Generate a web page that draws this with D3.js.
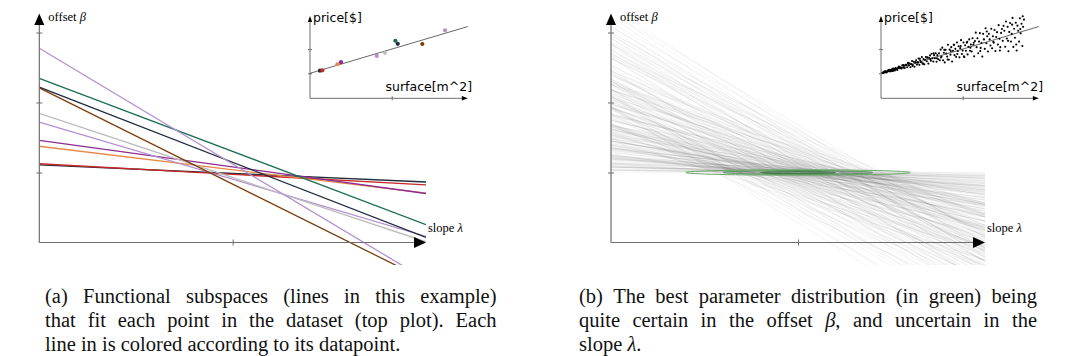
<!DOCTYPE html>
<html><head><meta charset="utf-8">
<script src="https://cdn.jsdelivr.net/npm/d3@7"></script>
<style>body{margin:0;background:#fff}svg{display:block}</style>
</head><body>
<svg id="c" width="1068" height="356"></svg>
<script>
// ---------- data ----------
// (a) ten datapoints of the top-right inset (surface, price) and their colours
const surfaceA = [0.122, 0.151, 0.335, 0.379, 0.817, 0.918, 1.045, 1.074, 1.375, 1.653];
const priceA   = [1.108, 1.125, 1.375, 1.458, 1.720, 1.846, 2.346, 2.220, 2.210, 2.775];
const colorsA  = ["#1f2d3d", "#c62828", "#e8894a", "#8e2c8e", "#b390d0", "#bdbdbd", "#1b6e55", "#1c2a3c", "#7a3d0a", "#b390d0"];

// (b) the large dataset (surface, price)
const surfaceB = [
0.02,0.03,0.04,0.05,0.06,0.07,0.08,0.09,0.10,0.11,0.12,0.13,0.14,0.15,0.16,0.17,0.18,0.19,0.20,0.21,0.22,0.23,0.24,0.25,0.26,0.27,0.28,0.29,0.30,0.035,0.065,0.095,0.125,0.155,0.185,0.215,0.245,0.275,0.055,0.145,
0.31,0.32,0.33,0.34,0.35,0.36,0.37,0.38,0.39,0.40,0.41,0.42,0.43,0.44,0.45,0.46,0.47,0.48,0.49,0.50,0.51,0.52,0.53,0.54,0.55,0.56,0.57,0.58,0.59,0.60,0.61,0.62,0.63,0.64,0.65,0.66,0.67,0.68,0.69,0.70,0.335,0.385,0.425,0.475,0.515,0.565,0.605,0.645,0.685,0.455,
0.71,0.72,0.73,0.74,0.75,0.76,0.77,0.78,0.79,0.80,0.81,0.82,0.83,0.84,0.85,0.86,0.87,0.88,0.89,0.90,0.91,0.92,0.93,0.94,0.95,0.96,0.97,0.98,0.99,1.00,1.01,1.02,1.03,1.04,1.05,1.06,1.07,1.08,1.09,1.10,0.735,0.775,0.815,0.855,0.895,0.935,0.975,1.015,1.055,1.095,
1.11,1.12,1.13,1.14,1.15,1.16,1.17,1.18,1.19,1.20,1.21,1.22,1.23,1.24,1.25,1.26,1.27,1.28,1.29,1.30,1.31,1.32,1.33,1.34,1.35,1.36,1.37,1.38,1.39,1.40,1.41,1.42,1.43,1.44,1.45,1.46,1.47,1.48,1.49,1.50,1.135,1.215,1.295,1.375,1.455,
1.51,1.52,1.53,1.54,1.55,1.56,1.57,1.58,1.59,1.60,1.61,1.62,1.63,1.64,1.65,1.66,1.67,1.68,1.69,1.70,1.71,1.72,1.73,1.74,1.75,1.555,1.605,1.655,1.705,1.735];
const priceB = [
1.03,1.01,1.07,1.04,1.08,1.04,1.08,1.13,1.08,1.14,1.08,1.14,1.19,1.12,1.18,1.12,1.22,1.19,1.14,1.24,1.28,1.21,1.25,1.20,1.33,1.23,1.31,1.22,1.35,1.03,1.05,1.12,1.10,1.20,1.17,1.23,1.21,1.34,1.08,1.10,
1.35,1.25,1.43,1.32,1.41,1.25,1.38,1.51,1.34,1.48,1.27,1.45,1.54,1.36,1.45,1.61,1.35,1.53,1.46,1.67,1.41,1.59,1.37,1.56,1.67,1.50,1.66,1.40,1.63,1.74,1.52,1.81,1.62,1.49,1.75,1.62,1.83,1.48,1.75,1.58,1.39,1.30,1.45,1.60,1.39,1.64,1.58,1.83,1.62,1.45,
1.83,1.54,1.98,1.69,2.06,1.54,1.85,1.45,1.97,1.82,1.69,2.18,1.56,1.98,1.77,2.08,1.49,1.93,2.18,1.75,2.01,1.68,2.27,1.92,2.12,1.66,2.04,2.37,1.80,1.94,2.27,1.67,2.16,1.93,2.26,1.78,2.10,2.40,1.93,2.19,1.65,1.97,1.57,1.92,2.18,1.80,2.13,1.70,2.30,2.06,
1.90,2.45,2.18,1.70,2.33,2.68,2.08,2.45,1.83,2.31,2.66,2.05,2.25,1.69,2.63,2.40,2.01,2.86,2.24,2.53,1.90,2.63,2.40,2.15,2.84,2.03,2.53,2.26,2.79,1.92,2.50,2.70,2.19,2.99,2.43,2.08,2.67,2.83,2.34,2.96,2.26,1.92,2.73,2.30,1.94,
2.76,2.10,3.14,2.44,2.92,1.91,2.71,3.08,2.31,2.63,3.29,2.09,2.84,2.47,3.09,1.94,2.97,2.76,2.31,3.27,2.65,3.05,2.13,2.92,3.22,2.34,3.01,2.19,2.83,3.36];

// best parameters and the uncertainty of the fit (panel b)
const bestOffset = 1.0, bestSlope = 1.0;
const sigmaSlope = 0.2, sigmaOffset = 0.013;
const ellipseLevels = [3, 2, 1];
const ellipseColors = ["#6aa86a", "#55965a", "#3f7d45"];

// tick values
const offsetTicks = [1, 2, 3];
const slopeTicks = [1];
const priceTicks = [1, 2];
const surfaceTicks = [1];

// captions
const captionA = ["(a) Functional subspaces (lines in this example)",
                  "that fit each point in the dataset (top plot).  Each",
                  "line in is colored according to its datapoint."];
const captionB = ["(b) The best parameter distribution (in green) being",
                  "quite certain in the offset β, and uncertain in the",
                  "slope λ."];

// ---------- drawing ----------
const svg = d3.select("#c");
const axisCol = "#6e6e6e";
const serif = "'Liberation Serif','Times New Roman',serif";
const sans = "'DejaVu Sans',sans-serif";

const yMain = d3.scaleLinear().domain([0, 3]).range([242.5, 32.5]);
const pIn = d3.scaleLinear().domain([0, 2]).range([97.5, 49.1]);

function panel(id, x0, x1, insetX0) {
  const g = svg.append("g");
  const x = d3.scaleLinear().domain([0, 2]).range([x0, x1]);
  const u = d3.scaleLinear().domain([0, 1]).range([insetX0, insetX0 + 81.7]);
  svg.append("clipPath").attr("id", "clip" + id)
    .append("rect").attr("x", x0).attr("y", 18).attr("width", x1 - x0).attr("height", 265 - 18);
  const lines = g.append("g").attr("clip-path", `url(#clip${id})`);
  return {g, x, u, lines, x0, x1, insetX0};
}

function mainAxes(P) {
  const {g, x, x0, x1} = P;
  const yb = yMain(0);
  g.append("line").attr("x1", x0).attr("x2", x0).attr("y1", yb).attr("y2", 24)
    .attr("stroke", axisCol).attr("stroke-width", 1.2);
  g.append("path").attr("d", `M${x0 - 5},25 L${x0 + 5},25 L${x0},13.5 Z`).attr("fill", "#000");
  g.append("line").attr("x1", x0).attr("x2", x1 - 11).attr("y1", yb).attr("y2", yb)
    .attr("stroke", axisCol).attr("stroke-width", 1.2);
  g.append("path").attr("d", `M${x1 - 12},${yb - 5.5} L${x1 - 12},${yb + 5.5} L${x1},${yb} Z`).attr("fill", "#000");
  const ay = d3.axisLeft(yMain).tickValues(offsetTicks).tickSize(3).tickFormat("");
  const gy = g.append("g").attr("transform", `translate(${x0},0)`).call(ay);
  gy.select(".domain").remove();
  gy.selectAll(".tick line").attr("x2", -3).attr("x1", 3).attr("stroke", axisCol);
  const ax = d3.axisBottom(x).tickValues(slopeTicks).tickSize(3).tickFormat("");
  const gx = g.append("g").attr("transform", `translate(0,${yb})`).call(ax);
  gx.select(".domain").remove();
  gx.selectAll(".tick line").attr("y1", -3).attr("y2", 3).attr("stroke", axisCol);
  const t1 = g.append("text").attr("x", x0 + 9).attr("y", 21).attr("font-family", serif).attr("font-size", 12.5);
  t1.append("tspan").text("offset ");
  t1.append("tspan").attr("font-style", "italic").text("β");
  const t2 = g.append("text").attr("x", x1 + 2).attr("y", 232).attr("font-family", serif).attr("font-size", 12.5);
  t2.append("tspan").text("slope ");
  t2.append("tspan").attr("font-style", "italic").text("λ");
}

function insetAxes(P) {
  const {g, u, insetX0} = P;
  const yb = 98.3, xEnd = u(1.92);
  g.append("line").attr("x1", insetX0).attr("x2", insetX0).attr("y1", yb).attr("y2", 21)
    .attr("stroke", axisCol).attr("stroke-width", 1);
  g.append("path").attr("d", `M${insetX0 - 2.2},22 L${insetX0 + 2.2},22 L${insetX0},16 Z`).attr("fill", "#000");
  g.append("line").attr("x1", insetX0).attr("x2", xEnd - 4).attr("y1", yb).attr("y2", yb)
    .attr("stroke", axisCol).attr("stroke-width", 1);
  g.append("path").attr("d", `M${xEnd - 5},${yb - 2.2} L${xEnd - 5},${yb + 2.2} L${xEnd + 1},${yb} Z`).attr("fill", "#000");
  const ay = d3.axisLeft(pIn).tickValues(priceTicks).tickSize(2).tickFormat("");
  const gy = g.append("g").attr("transform", `translate(${insetX0},0)`).call(ay);
  gy.select(".domain").remove();
  gy.selectAll(".tick line").attr("x1", 2).attr("x2", -2).attr("stroke", axisCol);
  const ax = d3.axisBottom(u).tickValues(surfaceTicks).tickSize(2).tickFormat("");
  const gx = g.append("g").attr("transform", `translate(0,${yb})`).call(ax);
  gx.select(".domain").remove();
  gx.selectAll(".tick line").attr("y1", -2).attr("y2", 2).attr("stroke", axisCol);
  g.append("text").attr("x", insetX0 + 3).attr("y", 21.5).attr("font-family", sans).attr("font-size", 12.5).text("price[$]");
  g.append("text").attr("x", insetX0 + 75.5).attr("y", 91).attr("font-family", sans).attr("font-size", 12.5).text("surface[m^2]");
  g.append("line").attr("x1", u(0)).attr("y1", pIn(bestOffset))
    .attr("x2", u(1.93)).attr("y2", pIn(bestOffset + bestSlope * 1.93))
    .attr("stroke", "#555").attr("stroke-width", 0.9);
}

// ----- panel (a)
const A = panel("A", 39.3, 426, 310);
const dataA = surfaceA.map((s, i) => ({s, p: priceA[i], c: colorsA[i]}));
A.lines.selectAll("path").data(dataA).join("path")
  .attr("d", d => `M${A.x(0)},${yMain(d.p)} L${A.x(2)},${yMain(d.p - 2 * d.s)}`)
  .attr("stroke", d => d.c).attr("stroke-width", 1.3).attr("fill", "none");
mainAxes(A);
insetAxes(A);
A.g.append("g").selectAll("circle").data(dataA).join("circle")
  .attr("cx", d => A.u(d.s)).attr("cy", d => pIn(d.p)).attr("r", 2.1).attr("fill", d => d.c);

// ----- panel (b)
const B = panel("B", 611, 985, 881);
const dataB = surfaceB.map((s, i) => ({s, p: priceB[i]}));
B.lines.selectAll("path").data(dataB).join("path")
  .attr("d", d => `M${B.x(0)},${yMain(d.p)} L${B.x(2)},${yMain(d.p - 2 * d.s)}`)
  .attr("stroke", "#222").attr("stroke-opacity", 0.05).attr("stroke-width", 1).attr("fill", "none");
mainAxes(B);
const pxPerSlope = B.x(1) - B.x(0), pxPerOffset = yMain(0) - yMain(1);
B.g.append("g").selectAll("ellipse").data(ellipseLevels).join("ellipse")
  .attr("cx", B.x(bestSlope)).attr("cy", yMain(bestOffset))
  .attr("rx", k => k * sigmaSlope * pxPerSlope).attr("ry", k => k * sigmaOffset * pxPerOffset)
  .attr("fill", "none").attr("stroke", (k, i) => ellipseColors[i])
  .attr("stroke-width", (k, i) => i === 2 ? 1.3 : 1);
insetAxes(B);
B.g.append("g").selectAll("circle").data(dataB).join("circle")
  .attr("cx", d => B.u(d.s)).attr("cy", d => pIn(d.p)).attr("r", 1.05).attr("fill", "#000");

// ----- captions (justified, like LaTeX)
function caption(lines, x0, x1, y0, dy) {
  const fs = 20.5;
  lines.forEach((line, li) => {
    const words = line.split(/\s+/);
    const y = y0 + li * dy;
    const last = li === lines.length - 1;
    const els = words.map(w => {
      const t = svg.append("text").attr("y", y).attr("font-family", serif).attr("font-size", fs).attr("fill", "#111");
      w.split(/([βλ])/).filter(s => s.length).forEach(seg => {
        const ts = t.append("tspan").text(seg);
        if (seg === "β" || seg === "λ") ts.attr("font-style", "italic");
      });
      return t;
    });
    const widths = els.map(t => t.node().getComputedTextLength());
    const total = d3.sum(widths);
    const gap = last ? fs * 0.25 : (x1 - x0 - total) / (words.length - 1);
    let x = x0;
    els.forEach((t, i) => { t.attr("x", x); x += widths[i] + gap; });
  });
}
caption(captionA, 45, 496.5, 302.5, 24.3);
caption(captionB, 579, 1037, 302.5, 24.3);
</script>
</body></html>
